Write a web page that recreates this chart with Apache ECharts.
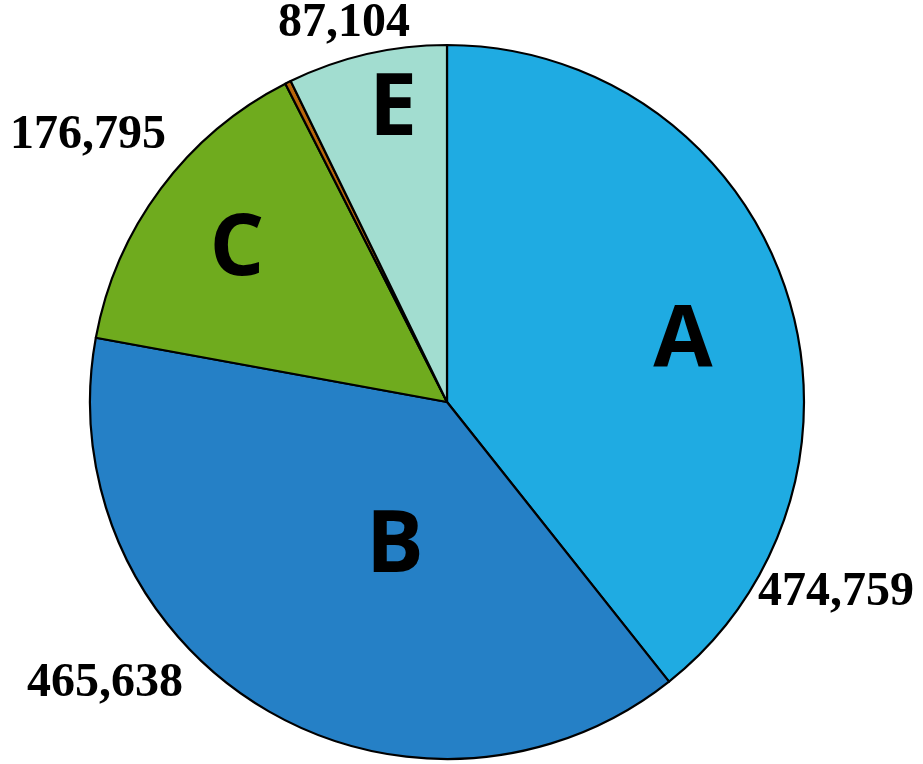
<!DOCTYPE html>
<html><head><meta charset="utf-8">
<script src="https://cdn.jsdelivr.net/npm/echarts@6/dist/echarts.min.js"></script>
<style>html,body{margin:0;padding:0;background:#fff}#c{width:923px;height:764px}</style>
</head><body><div id="c"></div>
<script>
const categories = ['A', 'B', 'C', 'D', 'E'];
const values = [474759, 465638, 176795, 3200, 87104];
const valueLabels = ['474,759', '465,638', '176,795', '', '87,104'];
const letterLabels = ['A', 'B', 'C', '', 'E'];
const colors = ['#1FABE2', '#2580C6', '#6FAB1E', '#B8670A', '#A2DDD0'];

const letterPos = [[683, 342], [395, 547], [237, 250], null, [393, 110]];
const valuePos = [[836, 593], [105, 684], [88, 136], null, [344, 24]];

const chart = echarts.init(document.getElementById('c'), null, {renderer: 'canvas'});
const data = categories.map((c, i) => ({name: c, value: values[i], itemStyle: {color: colors[i]}}));
const base = {
  type: 'pie', center: [447, 402], radius: 357, startAngle: 90, clockwise: true,
  animation: false, silent: true, avoidLabelOverlap: false,
  itemStyle: {borderColor: '#000', borderWidth: 2.2},
  labelLine: {show: false}
};
chart.setOption({
  series: [
    Object.assign({}, base, {
      data: data,
      label: {show: true, position: 'inside', formatter: p => letterLabels[p.dataIndex],
        fontFamily: 'Open Sans', fontWeight: 'bold', fontSize: 86, color: '#000'},
      labelLayout: p => letterPos[p.dataIndex] ? {x: letterPos[p.dataIndex][0], y: letterPos[p.dataIndex][1], align: 'center', verticalAlign: 'middle'} : {}
    }),
    Object.assign({}, base, {
      data: data.map(d => Object.assign({}, d, {itemStyle: {color: 'transparent', borderWidth: 0}})),
      label: {show: true, position: 'outside', formatter: p => valueLabels[p.dataIndex],
        fontFamily: 'Liberation Serif', fontWeight: 'bold', fontSize: 48, color: '#000'},
      labelLayout: p => valuePos[p.dataIndex] ? {x: valuePos[p.dataIndex][0], y: valuePos[p.dataIndex][1], align: 'center', verticalAlign: 'middle'} : {}
    })
  ]
});
</script></body></html>
